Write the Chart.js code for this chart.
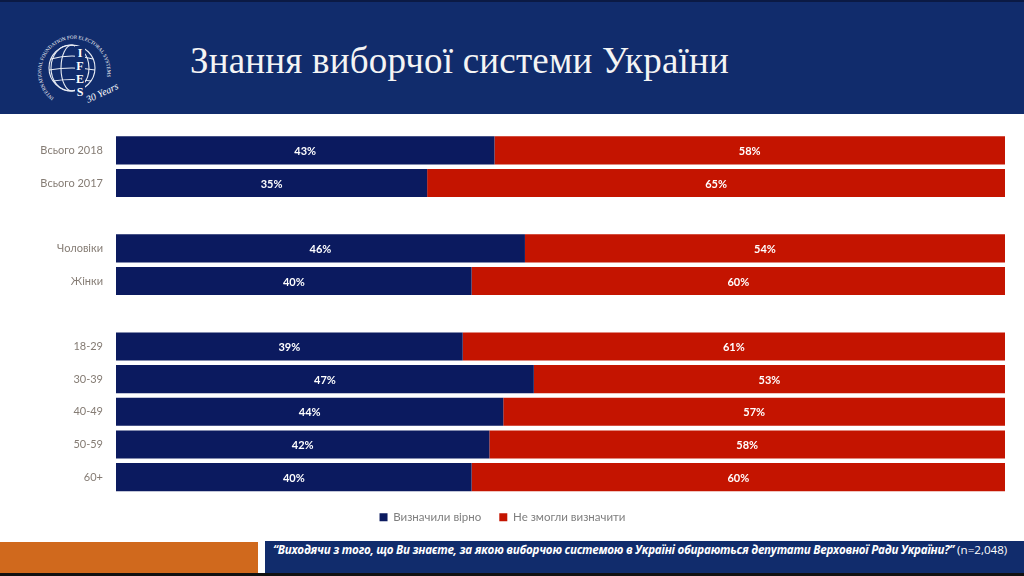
<!DOCTYPE html>
<html>
<head>
<meta charset="utf-8">
<script src="https://cdn.jsdelivr.net/npm/chart.js@4.4.1/dist/chart.umd.min.js"></script>
<style>
  html, body { margin: 0; padding: 0; width: 1024px; height: 576px; overflow: hidden; background: #fff; }
  #header { position: absolute; left: 0; top: 0; width: 1024px; height: 114px; background: #112c6c; border-top: 2px solid #0b1a44; box-sizing: border-box; }
  #title { position: absolute; left: 190px; top: 37px; color: #f4f4f4; font-family: "Liberation Serif", serif; font-size: 37px; letter-spacing: 0.2px; white-space: nowrap; }
  #logo { position: absolute; left: 30px; top: 24px; }
  #wrap { position: absolute; left: 0; top: 114px; width: 1024px; height: 427px; }
  #orange { position: absolute; left: 0; top: 542px; width: 258px; height: 31px; background: #d0691d; }
  #note { position: absolute; left: 265px; top: 541px; width: 759px; height: 32px; background: #112c6c; color: #fff; font-family: "Open Sans", sans-serif; font-size: 11.6px; line-height: 18px; padding-left: 8px; box-sizing: border-box; white-space: nowrap; }
  #note i { font-weight: bold; letter-spacing: -0.25px; }
  #black { position: absolute; left: 0; top: 573px; width: 1024px; height: 3px; background: #111; }
</style>
</head>
<body>
<div id="header">
  <svg id="logo" width="90" height="84" viewBox="0 0 90 84">
    <defs>
      <path id="ring" d="M 24 72 A 33 33 0 1 1 73 62" />
    </defs>
    <g fill="none" stroke="#e8ecf4" stroke-width="1.1">
      <circle cx="42" cy="42" r="23" />
      <ellipse cx="42" cy="42" rx="11" ry="23" />
      <ellipse cx="40" cy="42" rx="19" ry="23" />
      <path d="M 21 33 Q 42 27 63 33" />
      <path d="M 19 44 Q 42 40 65 44" />
      <path d="M 23 55 Q 42 52 61 55" />
    </g>
    <rect x="45" y="20" width="10" height="48" fill="#112c6c" />
    <g fill="#fff" font-family="Liberation Serif, serif" font-weight="bold" font-size="12" text-anchor="middle">
      <text x="50" y="31">I</text>
      <text x="50" y="44">F</text>
      <text x="50" y="57">E</text>
      <text x="50" y="70">S</text>
    </g>
    <text fill="#fff" font-family="Liberation Serif, serif" font-size="5">
      <textPath href="#ring">INTERNATIONAL FOUNDATION FOR ELECTORAL SYSTEMS</textPath>
    </text>
    <text x="58" y="77" fill="#fff" font-family="Liberation Serif, serif" font-style="italic" font-size="10" transform="rotate(-25 58 77)">30 Years</text>
  </svg>
  <div id="title">Знання виборчої системи України</div>
</div>

<div id="wrap"><canvas id="knowledge"></canvas></div>

<div id="orange"></div>
<div id="note"><i>“Виходячи з того, що Ви знаєте, за якою виборчою системою в Україні обираються депутати Верховної Ради України?”</i> (n=2,048)</div>
<div id="black"></div>

<script>
// categories (empty strings are the gaps between groups)
var groups = ['Всього 2018', 'Всього 2017', '', 'Чоловіки', 'Жінки', '', '18-29', '30-39', '40-49', '50-59', '60+'];
// answers, % of respondents
var correct = [43, 35, null, 46, 40, null, 39, 47, 44, 42, 40];
var failed = [58, 65, null, 54, 60, null, 61, 53, 57, 58, 60];
var seriesNames = ['Визначили вірно', 'Не змогли визначити'];

var navy = '#0b1a5f';
var red = '#c41400';

// 100% stacked: each row is scaled to its own total
function share(list, i) {
  if (list[i] == null) return null;
  return list[i] / (correct[i] + failed[i]) * 100;
}
var correctShare = correct.map(function (v, i) { return share(correct, i); });
var failedShare = failed.map(function (v, i) { return share(failed, i); });
var rawValues = [correct, failed];

var barLabels = {
  id: 'barLabels',
  afterDatasetsDraw: function (chart) {
    var ctx = chart.ctx;
    ctx.save();
    ctx.font = 'bold 11px Lato, "Open Sans", sans-serif';
    ctx.fillStyle = '#ffffff';
    ctx.textAlign = 'center';
    ctx.textBaseline = 'middle';
    chart.data.datasets.forEach(function (ds, d) {
      chart.getDatasetMeta(d).data.forEach(function (bar, i) {
        var v = rawValues[d][i];
        if (v == null) return;
        ctx.fillText(v + '%', (bar.x + bar.base) / 2, bar.y + 1);
      });
    });
    ctx.restore();
  }
};

var chartdata = {
  labels: groups,
  datasets: [
    {
      label: seriesNames[0],
      data: correctShare,
      backgroundColor: navy,
      borderColor: navy,
      barPercentage: 0.86,
      categoryPercentage: 1
    },
    {
      label: seriesNames[1],
      data: failedShare,
      backgroundColor: red,
      borderColor: red,
      barPercentage: 0.86,
      categoryPercentage: 1
    }
  ]
};

new Chart(document.getElementById('knowledge'), {
  type: 'bar',
  data: chartdata,
  plugins: [barLabels],
  options: {
    indexAxis: 'y',
    responsive: true,
    maintainAspectRatio: false,
    animation: false,
    layout: { padding: { top: 20, right: 19, bottom: 8, left: 0 } },
    scales: {
      x: {
        stacked: true,
        min: 0,
        max: 100,
        display: false
      },
      y: {
        stacked: true,
        grid: { display: false, drawTicks: false },
        border: { display: false },
        ticks: {
          color: '#857c74',
          padding: 13,
          font: { family: 'Lato, "Open Sans", sans-serif', size: 11 }
        },
        afterFit: function (scale) { scale.width = 116; }
      }
    },
    plugins: {
      tooltip: { enabled: false },
      legend: {
        position: 'bottom',
        labels: {
          boxWidth: 8,
          boxHeight: 8,
          padding: 18,
          color: '#7f7f7f',
          font: { family: 'Lato, "Open Sans", sans-serif', size: 11.5 }
        }
      }
    }
  }
});
</script>
</body>
</html>
